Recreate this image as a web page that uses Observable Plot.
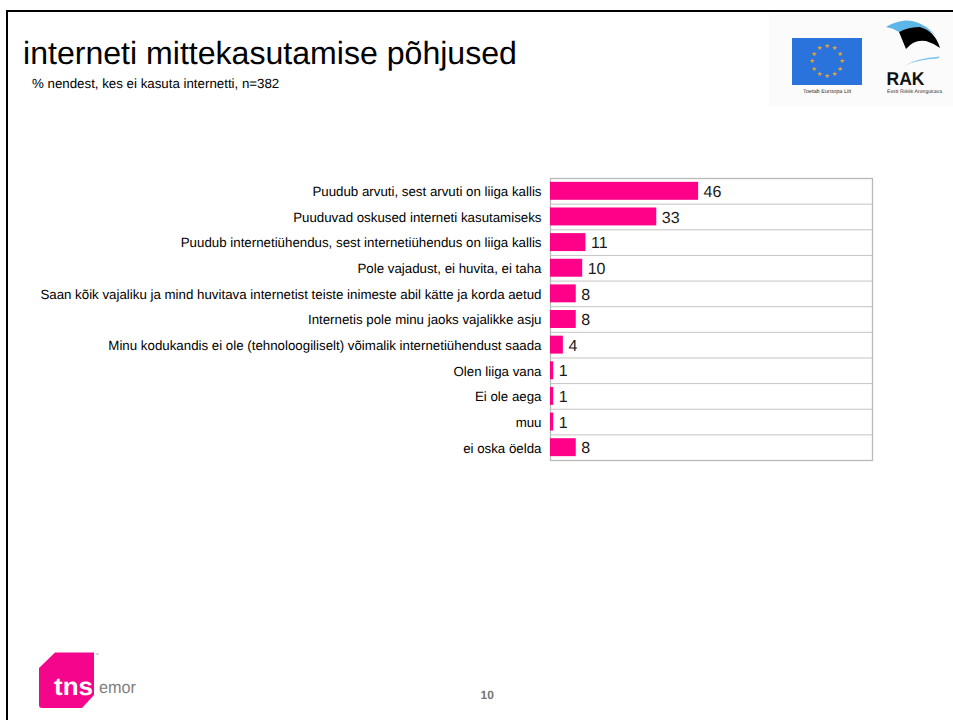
<!DOCTYPE html>
<html><head><meta charset="utf-8">
<script src="https://cdn.jsdelivr.net/npm/d3@7"></script>
<script src="https://cdn.jsdelivr.net/npm/@observablehq/plot@0.6"></script>
<style>
html,body{margin:0;padding:0;background:#fff;width:953px;height:720px;overflow:hidden;font-family:"Liberation Sans",Arial,sans-serif;color:#000;text-rendering:geometricPrecision}
#frame{position:absolute;left:6px;top:10px;width:960px;height:730px;border:2.5px solid #000;box-sizing:border-box}
.t{position:absolute;white-space:nowrap}
#title{left:23px;top:35px;font-size:32.1px;line-height:36px}
#sub{left:32px;top:76px;font-size:13.3px;line-height:15px}
#page{left:480.5px;top:688px;font-size:12px;font-weight:bold;color:#777;line-height:15px}
#chart{position:absolute;left:0;top:0}
#logos{position:absolute;left:769px;top:13px}
#tns{position:absolute;left:36px;top:650px}
svg text{text-rendering:geometricPrecision}
</style></head><body>
<div id="chart"></div>
<div id="frame"></div>
<div id="title" class="t">interneti mittekasutamise põhjused</div>
<div id="sub" class="t">% nendest, kes ei kasuta internetti, n=382</div>
<div id="page" class="t">10</div>
<svg id="logos" width="184" height="94" viewBox="769 13 184 94" font-family="Liberation Sans,Arial,sans-serif">
<rect x="769" y="13" width="184" height="94" fill="#fbfbfb"/>
<rect x="792" y="38" width="70" height="47" fill="#2a72dc"/>
<g fill="#dda33a" font-family="DejaVu Sans" font-size="6.5" text-anchor="middle">
<text x="827" y="48">★</text><text x="834.5" y="50">★</text><text x="840" y="55.5">★</text><text x="842" y="63">★</text><text x="840" y="70.5">★</text><text x="834.5" y="76">★</text><text x="827" y="78">★</text><text x="819.5" y="76">★</text><text x="814" y="70.5">★</text><text x="812" y="63">★</text><text x="814" y="55.5">★</text><text x="819.5" y="50">★</text></g>
<text x="827" y="93" font-size="5.6" text-anchor="middle" fill="#333">Toetab Euroopa Liit</text>
<path d="M886 27 Q893 22 905 20.5 Q922 20 936 36 Q928 29 920 27 Q908 27 899 32 Q893 28 886 27Z" fill="#5db6e8"/>
<path d="M899 32 Q908 27 920 27 Q935 31 940 48 Q933 43 926 41 Q914 39 906 49Z" fill="#000"/>
<path d="M904 66 Q916 58 940 56.5 L938 58.5 Q918 59 904 66Z" fill="#7cc4ec"/>
<text x="886.5" y="85" font-size="18.5" font-weight="bold" fill="#111" textLength="38" lengthAdjust="spacingAndGlyphs">RAK</text>
<text x="887" y="93" font-size="5" fill="#333" textLength="55" lengthAdjust="spacingAndGlyphs">Eesti Riiklik Arengukava</text>
</svg>
<svg id="tns" width="110" height="60" viewBox="36 650 110 60" font-family="Liberation Sans,Arial,sans-serif">
<path d="M55 652.5 H94 V695 L82 708 H42 Q39 708 39 705 V668Z" fill="#f5058c"/>
<text x="54" y="695" font-size="25" font-weight="bold" fill="#fff" textLength="39" lengthAdjust="spacingAndGlyphs">tns</text>
<text x="99" y="693" font-size="17" fill="#808080" textLength="37" lengthAdjust="spacingAndGlyphs">emor</text>
<text x="95" y="656" font-size="4" fill="#888">™</text>
</svg>
<script>
const categories = [
 "Puudub arvuti, sest arvuti on liiga kallis",
 "Puuduvad oskused interneti kasutamiseks",
 "Puudub internetiühendus, sest internetiühendus on liiga kallis",
 "Pole vajadust, ei huvita, ei taha",
 "Saan kõik vajaliku ja mind huvitava internetist teiste inimeste abil kätte ja korda aetud",
 "Internetis pole minu jaoks vajalikke asju",
 "Minu kodukandis ei ole (tehnoloogiliselt) võimalik internetiühendust saada",
 "Olen liiga vana",
 "Ei ole aega",
 "muu",
 "ei oska öelda"
];
const values = [46,33,11,10,8,8,4,1,1,1,8];
const rows = categories.map((c,i)=>({c,v:values[i]}));
const boundaries = categories.slice(1);
const chart = Plot.plot({
  width:953,height:720,
  marginLeft:550,marginRight:81,marginTop:178,marginBottom:260,
  style:{fontFamily:"Liberation Sans, Arial, sans-serif",background:"transparent",overflow:"visible"},
  x:{domain:[0,100],axis:null},
  y:{domain:categories,label:null,paddingInner:0.3,paddingOuter:0.15,round:false,axis:null},
  marks:[
    Plot.frame({stroke:"#b9b9b9",strokeWidth:1.3}),
    Plot.ruleY(boundaries,{y:d=>d,dy:-12.8,stroke:"#c4c4c4",strokeWidth:1}),
    Plot.barX(rows,{x:"v",y:"c",fill:"#ff0088"}),
    Plot.text(rows,{x:"v",y:"c",text:d=>String(d.v),textAnchor:"start",dx:5,dy:0.6,fontSize:16,fill:"#1a1a1a"}),
    Plot.axisY({tickSize:0,tickPadding:9,fontSize:13.3,color:"#000",label:null,lineWidth:Infinity,marginLeft:550,tickFormat:d=>d,dy:0.6})
  ]
});
document.getElementById("chart").append(chart);
</script>
</body></html>
